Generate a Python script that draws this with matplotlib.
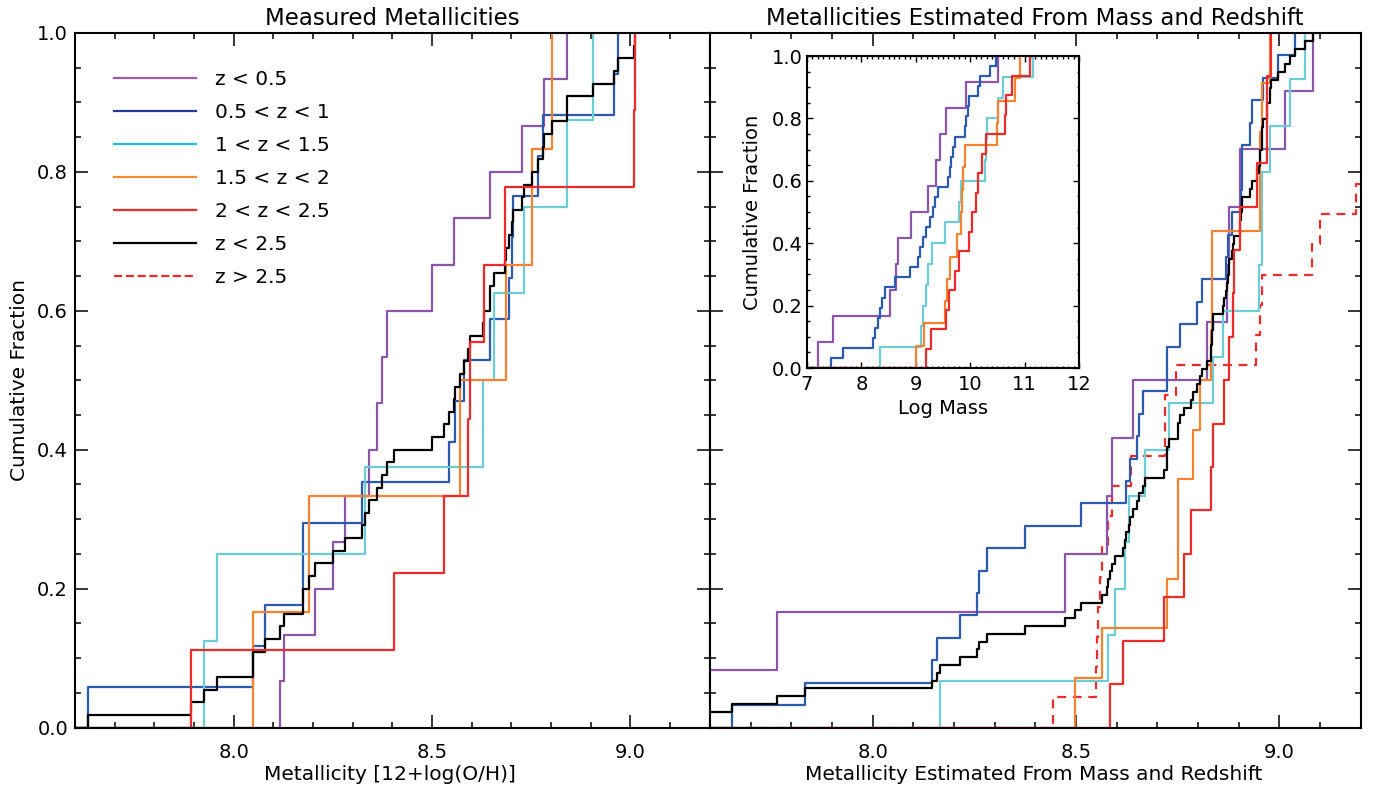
import numpy as np
import matplotlib
matplotlib.use("Agg")
import matplotlib.pyplot as plt
from matplotlib.lines import Line2D
from matplotlib.ticker import MultipleLocator, FixedLocator, FormatStrFormatter

# ---------------- data ----------------
labels = ["z < 0.5", "0.5 < z < 1", "1 < z < 1.5", "1.5 < z < 2", "2 < z < 2.5", "z < 2.5", "z > 2.5"]

# Measured metallicities (left panel)
meas_z05 = [8.116, 8.126, 8.204, 8.250, 8.280, 8.341, 8.361, 8.374, 8.386, 8.500,
            8.556, 8.647, 8.728, 8.783, 8.841]
meas_z05_1 = [7.633, 8.050, 8.080, 8.174, 8.176, 8.323, 8.543, 8.558, 8.581, 8.647,
              8.695, 8.703, 8.705, 8.768, 8.781, 8.960, 8.970]
meas_z1_15 = [7.926, 7.959, 8.331, 8.629, 8.657, 8.733, 8.841, 8.907]
meas_z15_2 = [8.050, 8.189, 8.571, 8.687, 8.753, 8.804]
meas_z2_25 = [7.893, 8.404, 8.530, 8.592, 8.596, 8.632, 8.685, 9.010, 9.012]

# Metallicities estimated from mass and redshift (right panel)
est_z05 = [7.50, 7.765, 8.474, 8.576, 8.590, 8.640, 8.823, 8.872, 8.876, 8.904, 9.014, 9.084]
est_z05_1 = [7.653, 7.834, 8.145, 8.158, 8.214, 8.256, 8.261, 8.281, 8.375, 8.513,
             8.622, 8.634, 8.651, 8.655, 8.665, 8.723, 8.725, 8.755, 8.797, 8.811,
             8.870, 8.874, 8.883, 8.907, 8.908, 8.909, 8.928, 8.932, 8.961, 8.998, 9.040]
est_z1_15 = [8.166, 8.579, 8.595, 8.621, 8.631, 8.669, 8.729, 8.837, 8.862, 8.950,
             8.957, 8.958, 8.977, 9.026, 9.063]
est_z15_2 = [8.497, 8.565, 8.723, 8.751, 8.752, 8.787, 8.804, 8.833, 8.834, 8.835,
             8.952, 8.953, 8.957, 8.977]
est_z2_25 = [8.585, 8.616, 8.716, 8.765, 8.784, 8.833, 8.837, 8.864, 8.877, 8.887,
             8.888, 8.903, 8.946, 8.970, 8.971, 8.980]
est_all_extra = [7.55]
est_z25 = [8.443, 8.549, 8.552, 8.555, 8.560, 8.565, 8.580, 8.590, 8.636, 8.718,
           8.719, 8.747, 8.944, 8.952, 8.957, 9.080, 9.100, 9.190, 9.30, 9.40,
           9.50, 9.60, 9.70]

# Log stellar mass (inset)
mass_z05 = [7.202, 7.478, 8.532, 8.643, 8.673, 8.918, 9.225, 9.377, 9.451, 9.561, 9.929, 10.52]
mass_z05_1 = [7.447, 7.662, 8.213, 8.244, 8.305, 8.336, 8.385, 8.428, 8.612, 8.887,
              9.040, 9.071, 9.132, 9.194, 9.255, 9.316, 9.347, 9.408, 9.592, 9.623,
              9.653, 9.684, 9.714, 9.898, 9.929, 9.960, 9.978, 10.143, 10.174, 10.358, 10.480]
mass_z1_15 = [8.336, 9.102, 9.132, 9.194, 9.224, 9.298, 9.531, 9.800, 9.837, 10.266,
              10.290, 10.309, 10.511, 10.603, 11.154]
mass_z15_2 = [8.998, 9.145, 9.531, 9.574, 9.635, 9.763, 9.837, 9.855, 9.868, 9.911,
              10.499, 10.511, 10.818, 10.909]
mass_z2_25 = [9.194, 9.286, 9.549, 9.610, 9.714, 9.794, 9.978, 10.039, 10.113, 10.143,
              10.223, 10.284, 10.634, 10.664, 10.775, 11.093]

# ---------------- style ----------------
col_line = ["#8a56ac", "#2b5baf", "#6ccdd6", "#f5822f", "#ee2b2b", "black", "#ee2b2b"]
col_leg = ["#9a5db0", "#26399a", "#22bdee", "#f58a2c", "#ec2b2e", "black", "#ec2b2e"]
z_line = [2.1, 2.2, 2.3, 2.4, 2.6, 2.5, 2.0]
LW = 1.6

plt.rcParams["font.family"] = ["DejaVu Sans"]


def ecdf(ax, values, left, **kw):
    v = np.sort(np.asarray(values, dtype=float))
    n = v.size
    x = np.concatenate([[left], v])
    y = np.concatenate([[0.0], np.arange(1, n + 1) / n])
    ax.step(x, y, where="post", **kw)


def style_main(ax):
    ax.set_xlim(7.6, 9.2)
    ax.set_ylim(0.0, 1.0)
    ax.xaxis.set_major_locator(FixedLocator([8.0, 8.5, 9.0]))
    ax.xaxis.set_minor_locator(MultipleLocator(0.1))
    ax.yaxis.set_major_locator(MultipleLocator(0.2))
    ax.yaxis.set_minor_locator(MultipleLocator(0.05))
    ax.xaxis.set_major_formatter(FormatStrFormatter("%.1f"))
    ax.yaxis.set_major_formatter(FormatStrFormatter("%.1f"))
    ax.tick_params(which="both", direction="in", top=True, right=True, width=1.1)
    ax.tick_params(which="major", length=9.5)
    ax.tick_params(which="minor", length=4.5)
    ax.tick_params(axis="x", which="major", pad=11, labelsize=14)
    ax.tick_params(axis="y", which="major", pad=5, labelsize=14)
    for s in ax.spines.values():
        s.set_linewidth(1.5)
        s.set_zorder(5)


fig = plt.figure(figsize=(13.79, 7.92), dpi=100)
W, H = 1379.0, 792.0
bot = 1 - 727.5 / H
hgt = 694.5 / H
axL = fig.add_axes([75 / W, bot, 634.5 / W, hgt])
axR = fig.add_axes([710 / W, bot, 650.5 / W, hgt])

# ---------- left panel ----------
meas_sets = [meas_z05, meas_z05_1, meas_z1_15, meas_z15_2, meas_z2_25]
for vals, c, zo in zip(meas_sets, col_line[:5], z_line[:5]):
    ecdf(axL, vals, 7.0, color=c, lw=LW, zorder=zo)
ecdf(axL, np.concatenate(meas_sets), 7.0, color="black", lw=LW, zorder=z_line[5])
style_main(axL)
axL.set_title("Measured Metallicities", fontsize=16.5, pad=6)
axL.set_xlabel("Metallicity [12+log(O/H)]", fontsize=14.5)
axL.xaxis.set_label_coords(0.497, -0.054)
axL.set_ylabel("Cumulative Fraction", fontsize=14.5)
axL.yaxis.set_label_coords(-0.072, 0.5)

handles = [Line2D([], [], color=c, lw=LW, ls=("--" if i == 6 else "-"))
           for i, c in enumerate(col_leg)]
leg = axL.legend(handles, labels, loc="upper left", bbox_to_anchor=(0.061, 0.947),
                 frameon=False, fontsize=14.5, handlelength=4.1, handletextpad=0.95,
                 labelspacing=0.70, borderpad=0, borderaxespad=0)

# ---------- right panel ----------
est_sets = [est_z05, est_z05_1, est_z1_15, est_z15_2, est_z2_25]
for vals, c, zo in zip(est_sets, col_line[:5], z_line[:5]):
    ecdf(axR, vals, 7.0, color=c, lw=LW, zorder=zo)
ecdf(axR, np.concatenate(est_sets + [est_all_extra]), 7.0, color="black", lw=LW,
     zorder=z_line[5])
ecdf(axR, est_z25, 7.0, color=col_line[6], lw=LW, ls=(0, (4, 3)), zorder=z_line[6])
style_main(axR)
axR.tick_params(axis="y", labelleft=False)
axR.set_title("Metallicities Estimated From Mass and Redshift", fontsize=16.5, pad=6)
axR.set_xlabel("Metallicity Estimated From Mass and Redshift", fontsize=14.5)
axR.xaxis.set_label_coords(0.497, -0.054)

# ---------- inset ----------
axI = fig.add_axes([807 / W, 1 - 368 / H, 272 / W, 312 / H])
mass_sets = [mass_z05, mass_z05_1, mass_z1_15, mass_z15_2, mass_z2_25]
for vals, c, zo in zip(mass_sets, col_line[:5], z_line[:5]):
    ecdf(axI, vals, 6.0, color=c, lw=LW, zorder=zo)
axI.set_xlim(7, 12)
axI.set_ylim(0, 1)
axI.xaxis.set_major_locator(MultipleLocator(1))
axI.xaxis.set_minor_locator(MultipleLocator(0.1))
axI.yaxis.set_major_locator(MultipleLocator(0.2))
axI.yaxis.set_minor_locator(MultipleLocator(0.05))
axI.xaxis.set_major_formatter(FormatStrFormatter("%d"))
axI.yaxis.set_major_formatter(FormatStrFormatter("%.1f"))
axI.tick_params(which="both", direction="in", top=True, right=True, width=1.0,
                labelsize=14)
axI.tick_params(which="major", length=4.5)
axI.tick_params(which="minor", length=1.8)
axI.tick_params(axis="x", pad=5)
axI.tick_params(axis="y", pad=3)
axI.set_xlabel("Log Mass", fontsize=14)
axI.xaxis.set_label_coords(0.5, -0.10)
axI.set_ylabel("Cumulative Fraction", fontsize=14)
axI.yaxis.set_label_coords(-0.165, 0.5)
for s in axI.spines.values():
    s.set_linewidth(1.5)
    s.set_zorder(5)

fig.savefig("out.png", dpi=100)
